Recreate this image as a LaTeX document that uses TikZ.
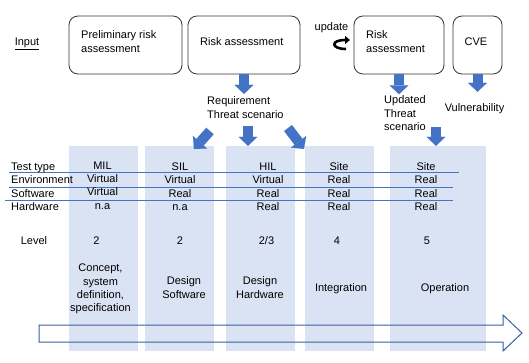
\documentclass[tikz,border=0pt]{standalone}
\usepackage{fontspec}
\setmainfont{Liberation Sans}
\usetikzlibrary{arrows.meta}
\definecolor{phasefill}{HTML}{DAE3F3}
\definecolor{arrblue}{HTML}{4472C4}
\definecolor{flowblue}{HTML}{3C5E9C}

\begin{document}
\begin{tikzpicture}[x=1pt,y=-1pt]
    \tikzset{
      phase/.style={fill=phasefill, minimum height=205pt, inner sep=0pt},
      riskbox/.style={draw=black!80, line width=0.8pt, rounded corners=9pt, minimum height=58pt},
      txt/.style={font=\fontsize{11}{13.3}\selectfont, inner sep=0pt},
      boxtxt/.style={font=\fontsize{11}{14}\selectfont, inner sep=0pt},
      rowline/.style={draw=arrblue, line width=0.9pt},
      blockarr/.style={draw=arrblue, line width=10pt, -{Triangle[width=19pt,length=9pt,line width=0.1pt]}},
      flow/.style={draw=flowblue, line width=1pt, line join=miter}
    }
    \useasboundingbox (0,0) rectangle (529,363);

    % Phase columns
    \node[phase, minimum width=69pt] (mil) at (103.5,248.5) {};
    \node[phase, minimum width=69pt] (sil) at (179.5,248.5) {};
    \node[phase, minimum width=69pt] (hil) at (260.5,248.5) {};
    \node[phase, minimum width=69pt] (site) at (339.5,248.5) {};
    \node[phase, minimum width=96pt] (oper) at (438,248.5) {};

    % Timeline arrow
    \draw[flow] (39,325) -- (503,325) -- (503,315) -- (522,333) -- (503,351) -- (503,342) -- (39,342) -- cycle;

    % Table rules
    \draw[rowline] (9,172) -- (459,172);
    \draw[rowline] (9,187) -- (453,187);
    \draw[rowline] (5,200) -- (453,200);

    % Top boxes
    \node[riskbox, minimum width=113pt] (prelim) at (125.5,45) {};
    \node[riskbox, minimum width=112pt] (risk) at (244,45) {};
    \node[riskbox, minimum width=90pt] (riskupd) at (399,45) {};
    \node[riskbox, minimum width=49pt] (cve) at (477.5,45) {};
    \node[boxtxt, anchor=west, align=left] (prelimtxt) at (81,42) {Preliminary risk\\assessment};
    \node[boxtxt, anchor=west] (risktxt) at (200,42) {Risk assessment};
    \node[boxtxt, anchor=west, align=left] (riskupdtxt) at (366,42) {Risk\\assessment};
    \node[boxtxt] (cvetxt) at (476,42) {CVE};
    \node[txt, anchor=base] (input) at (27,46) {\underline{Input}};
    \node[txt, anchor=base] (updtxt) at (331.5,31) {update};

    % Outputs of the assessments
    \node[txt, anchor=west, align=left] (req) at (207,107.5) {Requirement\\Threat scenario};
    \node[txt, anchor=west, align=left] (upd) at (384,113.3) {Updated\\Threat\\scenario};
    \node[txt, anchor=base] (vuln) at (474.5,112) {Vulnerability};

    % Row labels
    \node[txt, anchor=base west] (ltype) at (11,171) {Test type};
    \node[txt, anchor=base west] (lenv) at (11,184) {Environment};
    \node[txt, anchor=base west] (lsw) at (11,197) {Software};
    \node[txt, anchor=base west] (lhw) at (11,210) {Hardware};
    \node[txt, anchor=base] (llevel) at (34,244) {Level};

    % MIL
    \node[txt, anchor=base] (milt) at (102.5,170) {MIL};
    \node[txt, anchor=base] (mile) at (102.5,183) {Virtual};
    \node[txt, anchor=base] (mils) at (102.5,196) {Virtual};
    \node[txt, anchor=base] (milh) at (102.5,209) {n.a};
    \node[txt, anchor=base] (mill) at (96.5,244) {2};
    \node[txt, align=center] (mild) at (100.5,289) {Concept,\\system\\definition,\\specification};

    % SIL
    \node[txt, anchor=base] (silt) at (180,171) {SIL};
    \node[txt, anchor=base] (sile) at (180,184) {Virtual};
    \node[txt, anchor=base] (sils) at (180,197) {Real};
    \node[txt, anchor=base] (silh) at (180,210) {n.a};
    \node[txt, anchor=base] (sill) at (180,244) {2};
    \node[txt, align=center] (sild) at (184,287.6) {Design\\Software};

    % HIL
    \node[txt, anchor=base] (hilt) at (268,171) {HIL};
    \node[txt, anchor=base] (hile) at (268,184) {Virtual};
    \node[txt, anchor=base] (hils) at (268,197) {Real};
    \node[txt, anchor=base] (hilh) at (268,210) {Real};
    \node[txt, anchor=base] (hill) at (266.5,244) {2/3};
    \node[txt, align=center] (hild) at (260,287.6) {Design\\Hardware};

    % Site
    \node[txt, anchor=base] (sitet) at (339,171) {Site};
    \node[txt, anchor=base] (sitee) at (339,184) {Real};
    \node[txt, anchor=base] (sites) at (339,197) {Real};
    \node[txt, anchor=base] (siteh) at (339,210) {Real};
    \node[txt, anchor=base] (sitel) at (337,244) {4};
    \node[txt] (sited) at (341,289) {Integration};

    % Operation
    \node[txt, anchor=base] (opert) at (426,171) {Site};
    \node[txt, anchor=base] (opere) at (426,184) {Real};
    \node[txt, anchor=base] (opers) at (426,197) {Real};
    \node[txt, anchor=base] (operh) at (426,210) {Real};
    \node[txt, anchor=base] (operl) at (427,244) {5};
    \node[txt] (operd) at (445,289) {Operation};

    % Block arrows
    \coordinate (reqL) at (210,131);
    \coordinate (reqLtip) at (194,149);
    \coordinate (reqM) at (248,126);
    \coordinate (reqR) at (288,128);
    \coordinate (reqRtip) at (304,149);
    \coordinate (updR) at (436,127);
    \draw[blockarr, shorten >=2.7pt] (risk.south) -- (risk.south |- req.north);
    \draw[blockarr, shorten >=1.5pt] (riskupd.south) -- (riskupd.south |- upd.north);
    \draw[blockarr, shorten >=12pt] (cve.south) -- (cve.south |- vuln.north);
    \draw[blockarr] (reqL) -- (reqLtip);
    \draw[blockarr] (reqM) -- (reqM |- hil.north);
    \draw[blockarr] (reqR) -- (reqRtip);
    \draw[blockarr] (updR) -- (updR |- oper.north);

    % update arrow
    \coordinate (updfrom) at (346,49);
    \coordinate (updto) at (350,40);
    \draw[line width=2.6pt, -{Triangle[width=8pt,length=5pt]}] (updfrom) .. controls (331,49) and (330,40) .. (updto);
\end{tikzpicture}
\end{document}
